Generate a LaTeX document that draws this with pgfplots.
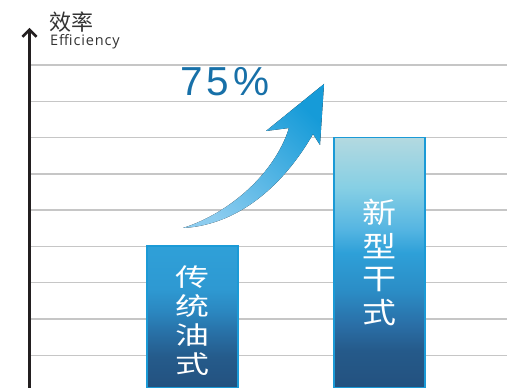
\documentclass[border=0pt]{standalone}
\usepackage{pgfplots}
\pgfplotsset{compat=1.18}
\usepackage{graphicx}
\usepackage{fontspec}
\setmainfont{Liberation Sans}
\newfontfamily\cjk{Noto Sans CJK SC}
\newfontfamily\opensans[LetterSpace=6]{Open Sans}
\usetikzlibrary{arrows.meta}

\definecolor{axiscol}{RGB}{35,31,32}
\definecolor{gridcol}{RGB}{198,198,198}
\definecolor{borderc}{RGB}{27,154,214}
\definecolor{txtblue}{RGB}{23,112,168}
\definecolor{hdr}{RGB}{51,51,51}
\definecolor{arrowlight}{RGB}{140,204,239}
\definecolor{arrowdark}{RGB}{22,155,216}
% bar 1 shading colours
\definecolor{bac}{RGB}{47,160,216}
\definecolor{bbc}{RGB}{46,153,210}
\definecolor{bcc}{RGB}{43,135,192}
\definecolor{bdc}{RGB}{40,112,166}
\definecolor{bec}{RGB}{37,91,139}
\definecolor{bfc}{RGB}{35,81,127}
% bar 2 shading colours
\definecolor{cac}{RGB}{179,217,224}
\definecolor{cbc}{RGB}{134,207,228}
\definecolor{ccc}{RGB}{85,181,226}
\definecolor{cdc}{RGB}{46,160,216}
\definecolor{cec}{RGB}{43,141,198}
\definecolor{cfc}{RGB}{42,110,166}
\definecolor{cgc}{RGB}{37,90,138}
\definecolor{chc}{RGB}{35,81,127}

\pgfdeclareverticalshading{barone}{100bp}{color(0bp)=(bfc); color(25bp)=(bfc); color(36bp)=(bec); color(44.5bp)=(bdc); color(52bp)=(bcc); color(60bp)=(bbc); color(75bp)=(bac); color(100bp)=(bac)}
\pgfdeclareverticalshading{bartwo}{100bp}{color(0bp)=(chc); color(25bp)=(chc); color(32.5bp)=(cgc); color(37.5bp)=(cfc); color(44.5bp)=(cec); color(52bp)=(cdc); color(56.7bp)=(ccc); color(65bp)=(cbc); color(75bp)=(cac); color(100bp)=(cac)}

\begin{document}
\begin{tikzpicture}[x=1pt,y=1pt]
\useasboundingbox (0,0) rectangle (507,388);
\begin{axis}[
  at={(29.5pt,0pt)}, anchor=south west,
  scale only axis, width=477.5pt, height=360pt,
  xmin=0.128, xmax=2.682, ymin=0.099, ymax=10.02,
  axis x line=none,
  axis y line=left,
  axis line style={draw=axiscol, line width=2.5pt, -{Straight Barb[length=7pt,width=14pt]}},
  ytick={1,2,3,4,5,6,7,8,9}, yticklabels={}, xtick=\empty,
  major tick length=0pt,
  ymajorgrids, grid style={draw=gridcol, line width=1.5pt},
]
\addplot[ybar, bar width=0.487, bar shift=0pt, draw=borderc, line width=2pt, shading=barone] coordinates {(1,4)};
\addplot[ybar, bar width=0.487, bar shift=0pt, draw=borderc, line width=1.6pt, shading=bartwo] coordinates {(2,7)};
\node[text=white, inner sep=0pt] at (axis cs:1,1.869) {\scalebox{1}[0.73]{\cjk\fontsize{34}{37.5}\selectfont\begin{tabular}{@{}c@{}}传\\统\\油\\式\end{tabular}}};
\node[text=white, inner sep=0pt] at (axis cs:2,3.454) {\scalebox{1}[0.85]{\cjk\fontsize{34}{38}\selectfont\begin{tabular}{@{}c@{}}新\\型\\干\\式\end{tabular}}};
\end{axis}
% decorative rising arrow
\fill[top color=arrowdark, bottom color=arrowlight, shading angle=-45]
  (183,160) .. controls (230,175) and (275,215) .. (289,260)
  -- (266,257) -- (324,304) -- (320,243) -- (313,254)
  .. controls (285,205) and (240,163) .. (183,160) -- cycle;
\node[anchor=base west, inner sep=0pt, text=txtblue, font=\fontsize{40.5}{40.5}\selectfont] at (180,292) {7\hspace{4pt}5\hspace{4pt}\%};
\node[anchor=base west, inner sep=0pt, text=hdr, font=\cjk\fontsize{22}{22}\selectfont] at (49,357.5) {效率};
\node[anchor=base west, inner sep=0pt, text=hdr, font=\opensans\fontsize{14.5}{14.5}\selectfont] at (50,342) {Efficiency};
\end{tikzpicture}
\end{document}
